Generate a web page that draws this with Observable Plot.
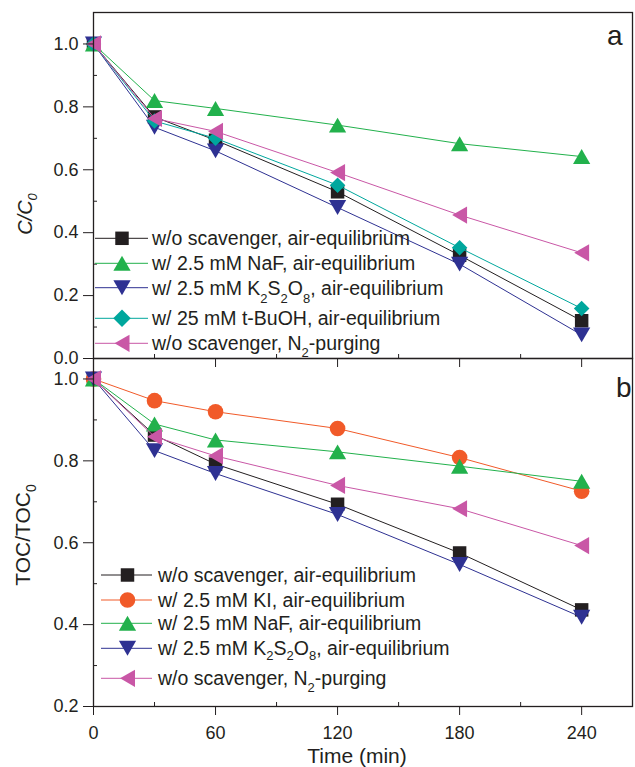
<!DOCTYPE html>
<html><head><meta charset="utf-8">
<script src="https://cdn.jsdelivr.net/npm/d3@7"></script>
<script src="https://cdn.jsdelivr.net/npm/@observablehq/plot@0.6"></script>
<style>
body{margin:0;background:#fff;}
#wrap{position:relative;width:635px;height:767px;}
#wrap svg{position:absolute;left:0;top:0;}
</style></head><body><div id="wrap"></div>
<script>
// ---- data ----
const times = [0, 30, 60, 120, 180, 240];
const xTicks = [0, 60, 120, 180, 240];
const xMinor = [30, 90, 150, 210];

// Panel a: C/C0
const a_noScavAir = [1.00, 0.768, 0.694, 0.530, 0.328, 0.120];
const a_NaF       = [1.00, 0.820, 0.795, 0.742, 0.683, 0.642];
const a_K2S2O8    = [1.00, 0.735, 0.660, 0.480, 0.300, 0.075];
const a_tBuOH     = [1.00, 0.755, 0.700, 0.551, 0.352, 0.159];
const a_N2        = [1.00, 0.763, 0.722, 0.591, 0.456, 0.336];
const aYTicks = [0, 0.2, 0.4, 0.6, 0.8, 1.0];
const aYMinor = [0.1, 0.3, 0.5, 0.7, 0.9];

// Panel b: TOC/TOC0
const b_noScavAir = [1.00, 0.863, 0.792, 0.694, 0.575, 0.436];
const b_KI        = [1.00, 0.947, 0.920, 0.879, 0.808, 0.726];
const b_NaF       = [1.00, 0.890, 0.851, 0.822, 0.787, 0.750];
const b_K2S2O8    = [1.00, 0.825, 0.769, 0.669, 0.547, 0.418];
const b_N2        = [1.00, 0.859, 0.812, 0.740, 0.683, 0.593];
const bYTicks = [0.2, 0.4, 0.6, 0.8, 1.0];
const bYMinor = [0.3, 0.5, 0.7, 0.9];

// ---- styles ----
const font = '"Liberation Sans", Arial, Helvetica, sans-serif';
const ink = "#231f20";
const C = {black:"#231f20", green:"#22b14c", navy:"#2e3192", teal:"#00a79d", pink:"#c957a6", orange:"#f15a29"};
const W = 635, H = 767;

const SQ = {symbol:"square", r:7.6, rotate:0, dx:0, dy:0};
const CI = {symbol:"circle", r:7.8, rotate:0, dx:0, dy:0};
const UP = {symbol:"triangle", r:6.4, rotate:0, dx:0, dy:2.5};
const DN = {symbol:"triangle", r:6.4, rotate:180, dx:0, dy:-2.5};
const LF = {symbol:"triangle", r:6.4, rotate:-90, dx:2.5, dy:0};
const DI = {symbol:"diamond2", r:7.0, rotate:0, dx:0, dy:0};

const aSeries = [
  {values:a_noScavAir, color:C.black, ...SQ, label:[["w/o scavenger, air-equilibrium"]]},
  {values:a_NaF, color:C.green, ...UP, label:[["w/ 2.5 mM NaF, air-equilibrium"]]},
  {values:a_K2S2O8, color:C.navy, ...DN, label:[["w/ 2.5 mM K"],["2",1],["S"],["2",1],["O"],["8",1],[", air-equilibrium"]], sub:8},
  {values:a_tBuOH, color:C.teal, ...DI, label:[["w/ 25 mM t-BuOH, air-equilibrium"]]},
  {values:a_N2, color:C.pink, ...LF, label:[["w/o scavenger, N"],["2",1],["-purging"]], sub:7}
];
const bSeries = [
  {values:b_noScavAir, color:C.black, ...SQ, label:[["w/o scavenger, air-equilibrium"]]},
  {values:b_KI, color:C.orange, ...CI, label:[["w/ 2.5 mM KI, air-equilibrium"]]},
  {values:b_NaF, color:C.green, ...UP, label:[["w/ 2.5 mM NaF, air-equilibrium"]]},
  {values:b_K2S2O8, color:C.navy, ...DN, label:[["w/ 2.5 mM K"],["2",1],["S"],["2",1],["O"],["8",1],[", air-equilibrium"]], sub:5},
  {values:b_N2, color:C.pink, ...LF, label:[["w/o scavenger, N"],["2",1],["-purging"]], sub:7}
];

function panel({series, yDomain, yTicks, yMinor, marginTop, marginBottom, xLabels}) {
  const marks = [];
  for (const s of series) {
    const data = times.map((t, i) => ({t, v: s.values[i]}));
    marks.push(Plot.line(data, {x:"t", y:"v", stroke:s.color, strokeWidth:1}));
    marks.push(Plot.dot(data, {x:"t", y:"v", symbol:s.symbol, r:s.r, fill:s.color, stroke:"none", rotate:s.rotate, dx:s.dx, dy:s.dy}));
  }
  marks.push(Plot.axisY({ticks:yTicks, tickFormat:".1f", tickSize:10, tickPadding:5, label:null, fontSize:18}));
  marks.push(Plot.axisY({ticks:yMinor, tickSize:4, dx:4, tickFormat:() => "", label:null}));
  marks.push(Plot.axisX({ticks:xTicks, tickSize:9, tickPadding:11, tickFormat: xLabels ? "d" : () => "", label:null, fontSize:18}));
  marks.push(Plot.axisX({ticks:xMinor, tickSize:4, dy:-4, tickFormat:() => "", label:null}));
  marks.push(Plot.frame({stroke:ink, strokeWidth:1.3}));
  return Plot.plot({
    width:W, height:H, marginLeft:93, marginRight:3, marginTop, marginBottom,
    x:{domain:[0, 265]}, y:{domain:yDomain},
    style:{fontFamily:font, fontSize:"18px", color:ink, background:"transparent", overflow:"visible"},
    marks
  });
}

function addText(sel, parts, subSize, subShift) {
  let shifted = false;
  for (const [txt, isSub] of parts) {
    const ts = sel.append("tspan").text(txt);
    if (isSub && !shifted) { ts.attr("dy", subShift).attr("font-size", subSize); shifted = true; }
    else if (isSub) ts.attr("font-size", subSize);
    else if (shifted) { ts.attr("dy", -subShift); shifted = false; }
  }
}

function legend(svg, series, {x0, x1, xm, xt, ys}) {
  const g = d3.select(svg).append("g").attr("font-family", font).attr("font-size", 19.5)
    .attr("fill", ink).attr("text-anchor", "start");
  const types = {square:d3.symbolSquare, circle:d3.symbolCircle, triangle:d3.symbolTriangle, diamond2:d3.symbolSquare};
  series.forEach((s, i) => {
    const y = ys[i];
    g.append("line").attr("x1", x0).attr("x2", x1).attr("y1", y).attr("y2", y).attr("stroke", s.color).attr("stroke-width", 1);
    const rot = s.symbol === "diamond2" ? 45 : s.rotate;
    g.append("path").attr("d", d3.symbol(types[s.symbol], s.r * s.r * Math.PI)())
      .attr("transform", `translate(${xm + s.dx},${y + s.dy}) rotate(${rot})`).attr("fill", s.color);
    const t = g.append("text").attr("x", xt).attr("y", y + 7).attr("text-anchor", "start");
    addText(t, s.label, 13, s.sub || 0);
  });
}

const wrap = document.getElementById("wrap");

const pa = panel({series:aSeries, yDomain:[0, 1.1], yTicks:aYTicks, yMinor:aYMinor, marginTop:12, marginBottom:H - 358, xLabels:false});
const pb = panel({series:bSeries, yDomain:[0.2, 1.05], yTicks:bYTicks, yMinor:bYMinor, marginTop:358, marginBottom:H - 706, xLabels:true});
wrap.appendChild(pb);
wrap.appendChild(pa);

legend(pa, aSeries, {x0:95, x1:148, xm:122, xt:152, ys:[238.3, 263.3, 287.7, 318.3, 343.3]});
legend(pb, bSeries, {x0:101, x1:152, xm:127.5, xt:158, ys:[575, 600, 623.3, 648.3, 678.3]});

// axis titles and panel letters
const sa = d3.select(pa), sb = d3.select(pb);
const ya = sa.append("text").attr("transform", "translate(32,214) rotate(-90)").attr("text-anchor", "middle")
  .attr("font-family", font).attr("font-size", 20).attr("font-style", "italic").attr("fill", ink);
addText(ya, [["C/C"], ["0", 1]], 13, 5);
const yb = sb.append("text").attr("transform", "translate(30,535) rotate(-90)").attr("text-anchor", "middle")
  .attr("font-family", font).attr("font-size", 21).attr("fill", ink);
addText(yb, [["TOC/TOC"], ["0", 1]], 14, 6);
sb.append("text").attr("x", 357).attr("y", 763).attr("text-anchor", "middle")
  .attr("font-family", font).attr("font-size", 21).attr("fill", ink).text("Time (min)");
sa.append("text").attr("x", 607).attr("y", 45).attr("text-anchor", "start").attr("font-family", font).attr("font-size", 28).attr("fill", ink).text("a");
sb.append("text").attr("x", 616).attr("y", 397).attr("text-anchor", "start").attr("font-family", font).attr("font-size", 28).attr("fill", ink).text("b");
</script></body></html>
